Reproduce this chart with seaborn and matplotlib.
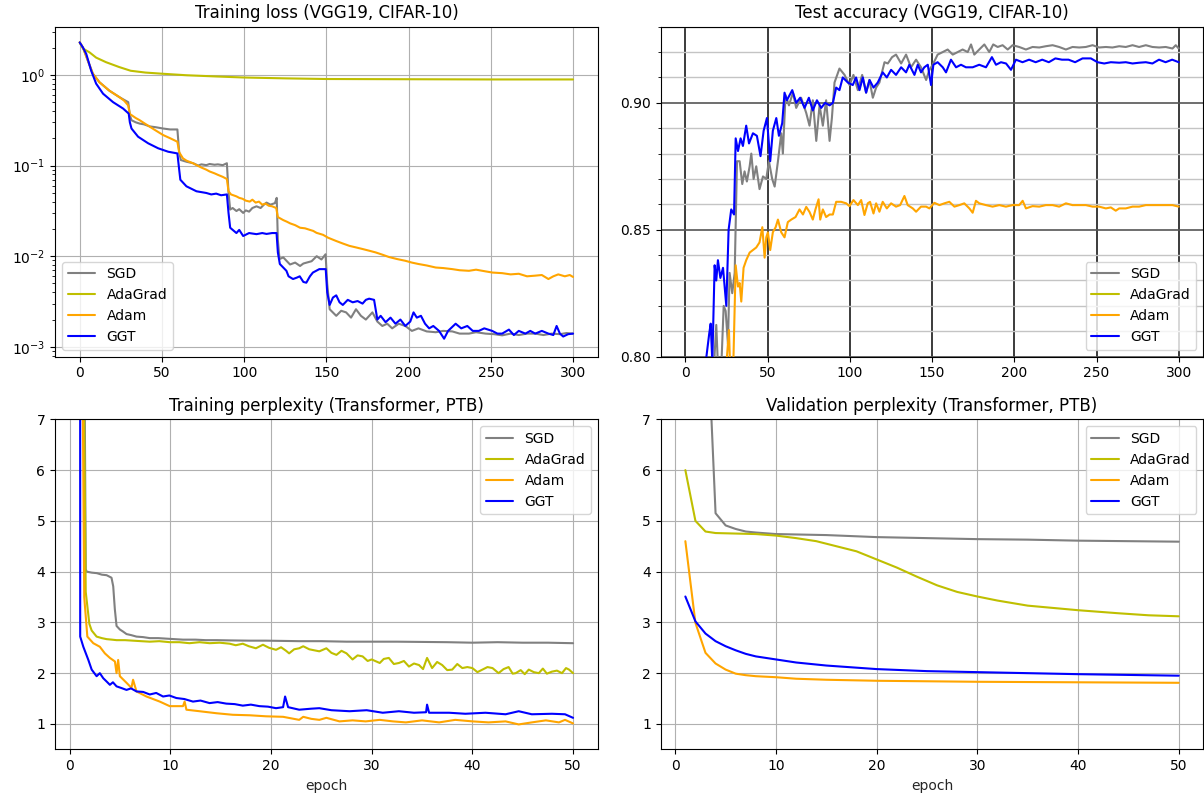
import seaborn as sns
import matplotlib.pyplot as plt
from matplotlib.ticker import MultipleLocator, FormatStrFormatter

# optimizer names and colours
names = ['SGD', 'AdaGrad', 'Adam', 'GGT']
colors = ['gray', 'y', 'orange', 'blue']

# ---- training loss (VGG19, CIFAR-10), (epoch, loss) ----
tl_sgd = [(0, 2.28), (2, 2.0), (5, 1.43), (8, 1.03), (12, 0.83), (18, 0.67), (24, 0.57), (27, 0.53),
          (29.5, 0.50), (30.5, 0.36), (31.5, 0.316), (34, 0.30), (36.5, 0.29), (39, 0.285), (42.6, 0.27),
          (46, 0.265), (50.7, 0.256), (55, 0.25), (59.4, 0.25), (60.5, 0.14), (61.5, 0.115), (65, 0.11),
          (69, 0.106), (72, 0.10), (74, 0.103), (77, 0.101), (79, 0.104), (82, 0.102), (84, 0.103),
          (87, 0.101), (89.5, 0.106), (90.5, 0.05), (91.5, 0.0327), (93, 0.034), (95.3, 0.0315),
          (97, 0.033), (99.4, 0.030), (101, 0.032), (103, 0.031), (105, 0.034), (107.5, 0.0355),
          (110, 0.034), (112, 0.037), (113.6, 0.039), (116, 0.037), (118.7, 0.0385), (119.8, 0.044),
          (120.5, 0.015), (121.5, 0.0093), (123.8, 0.0097), (126, 0.0088), (127.9, 0.0081), (131, 0.0085),
          (134, 0.0078), (136, 0.0083), (138, 0.0085), (141, 0.0088), (144.1, 0.010), (147, 0.0092),
          (149.5, 0.0105), (150.5, 0.005), (152, 0.0026), (156, 0.0022), (159, 0.0025), (162, 0.0024),
          (165, 0.0021), (168, 0.0026), (171, 0.0022), (174, 0.0020), (178, 0.0024), (181, 0.0019),
          (184, 0.0017), (187, 0.0018), (190, 0.0016), (194, 0.0018), (198, 0.0017), (202, 0.0015),
          (206, 0.0016), (211, 0.00148), (216.5, 0.00145), (221, 0.0015), (226.6, 0.00148), (231, 0.0014),
          (236.7, 0.0014), (241, 0.00145), (246.8, 0.0014), (252, 0.00138), (256.9, 0.00134), (262, 0.0014),
          (267, 0.00135), (272, 0.0014), (277, 0.0014), (282, 0.00135), (287, 0.0014), (292, 0.00138),
          (296, 0.00142), (300, 0.0014)]
tl_ada = [(0, 2.28), (2, 1.95), (6, 1.77), (10, 1.55), (16, 1.38), (24, 1.22), (31, 1.11), (40, 1.06),
          (50, 1.03), (65, 0.99), (83, 0.96), (100, 0.935), (125, 0.915), (150, 0.90), (200, 0.895),
          (250, 0.89), (300, 0.89)]
tl_adam = [(0, 2.28), (2, 2.0), (5, 1.43), (8, 1.03), (12, 0.83), (18, 0.67), (24, 0.57), (27, 0.52),
           (29.5, 0.46), (30.5, 0.37), (31.5, 0.36), (34, 0.335), (36.5, 0.316), (39, 0.295), (42.6, 0.268),
           (46, 0.245), (50.7, 0.217), (55, 0.20), (59.4, 0.183), (60.5, 0.14), (62.8, 0.12), (65, 0.113),
           (68.9, 0.106), (72, 0.099), (74, 0.095), (77, 0.09), (79, 0.086), (82, 0.082), (84, 0.079),
           (87, 0.075), (89.5, 0.071), (90.5, 0.052), (92, 0.048), (95.3, 0.0457), (97, 0.044), (99, 0.043),
           (101, 0.041), (103.4, 0.040), (105, 0.042), (107, 0.039), (109, 0.040), (111, 0.037), (113, 0.038),
           (115, 0.036), (117, 0.0355), (119.5, 0.034), (120.5, 0.027), (123.8, 0.025), (126, 0.024),
           (128, 0.023), (131, 0.022), (134, 0.0206), (137, 0.0203), (140, 0.0195), (142, 0.019),
           (144, 0.0181), (148, 0.0172), (151, 0.016), (156, 0.0147), (160, 0.0138), (164, 0.013),
           (168, 0.0125), (172, 0.012), (176, 0.0115), (180, 0.011), (184, 0.0104), (188, 0.0098),
           (193, 0.0093), (198, 0.0089), (202, 0.0085), (206, 0.0082), (211, 0.0079), (216.5, 0.0075),
           (221, 0.0074), (226.6, 0.0072), (231, 0.0070), (236.7, 0.0069), (241, 0.0071), (246.8, 0.0068),
           (251, 0.0066), (256.9, 0.0065), (262, 0.0063), (267, 0.0064), (272, 0.0060), (277, 0.0061),
           (281, 0.0062), (285, 0.0056), (288, 0.0060), (291, 0.0063), (295, 0.0060), (298, 0.0062),
           (300, 0.0059)]
tl_ggt = [(0, 2.28), (2, 2.0), (4, 1.7), (7, 1.11), (10, 0.80), (14.2, 0.62), (20.3, 0.50), (26.4, 0.425),
          (29.8, 0.374), (30.5, 0.30), (31.5, 0.256), (35.5, 0.208), (41.6, 0.176), (47.7, 0.155),
          (53.8, 0.142), (59.4, 0.136), (60.5, 0.09), (61.2, 0.0697), (64.9, 0.059), (71, 0.052),
          (77, 0.0498), (80, 0.048), (83, 0.049), (86, 0.047), (89.5, 0.048), (90.5, 0.03), (91.5, 0.0206),
          (95.3, 0.018), (97, 0.0195), (99.4, 0.0167), (103, 0.018), (107.5, 0.0175), (111, 0.018),
          (113.6, 0.0176), (117, 0.018), (119.7, 0.018), (120.5, 0.011), (121.7, 0.0082), (125.7, 0.0069),
          (127, 0.0060), (129.7, 0.0056), (132, 0.0058), (133.8, 0.006), (136, 0.0052), (137.8, 0.0051),
          (140, 0.0060), (141.8, 0.0066), (145.7, 0.0072), (149.6, 0.0072), (150.5, 0.004), (152, 0.0029),
          (154, 0.0035), (156, 0.0037), (158, 0.0031), (160, 0.0029), (163, 0.0033), (166, 0.0031),
          (169, 0.0032), (172, 0.003), (174, 0.0033), (176, 0.0034), (179, 0.0033), (181, 0.002),
          (183, 0.0022), (186, 0.00187), (189, 0.0021), (192, 0.0018), (195, 0.0020), (198, 0.0017),
          (201, 0.0019), (203, 0.0024), (205, 0.0021), (207.5, 0.0022), (210, 0.0018), (212.5, 0.0016),
          (215, 0.0017), (218.5, 0.0015), (221.6, 0.00123), (224, 0.0015), (228.6, 0.0018), (232, 0.0016),
          (235.7, 0.0017), (239, 0.0015), (242.7, 0.0015), (246, 0.0016), (250.8, 0.0015), (254, 0.0014),
          (256.9, 0.0014), (261, 0.00155), (264, 0.00135), (267, 0.0015), (271, 0.0014), (274, 0.0015),
          (277, 0.0014), (281, 0.0015), (285, 0.0014), (288, 0.00135), (290, 0.0017), (292, 0.0014),
          (294, 0.0013), (297, 0.00138), (300, 0.0014)]

# ---- test accuracy (VGG19, CIFAR-10), (epoch, accuracy) ----
ta_sgd = [(17, 0.79), (17.8, 0.801), (18.8, 0.8125), (20.2, 0.79), (21.5, 0.79), (23.3, 0.820), (24.5, 0.818),
          (25.9, 0.805), (26.9, 0.833), (28.5, 0.825), (30.0, 0.833), (31.4, 0.877), (33.0, 0.877),
          (34.6, 0.868), (36.0, 0.873), (37.4, 0.869), (39.1, 0.875), (40.1, 0.880), (41.5, 0.870),
          (43.1, 0.875), (45.1, 0.866), (47.2, 0.871), (49.2, 0.870), (50.8, 0.877), (52.8, 0.870),
          (54.3, 0.867), (56.3, 0.877), (58.3, 0.888), (59.3, 0.880), (60.9, 0.903), (63.0, 0.899),
          (65.4, 0.904), (67.4, 0.898), (70.4, 0.902), (73.5, 0.896), (75.5, 0.891), (77.5, 0.901),
          (79.6, 0.885), (81.6, 0.899), (83.6, 0.891), (85.6, 0.901), (87.7, 0.885), (89.1, 0.894),
          (90.7, 0.908), (93.7, 0.9135), (96.8, 0.911), (99.8, 0.907), (102.2, 0.911), (104.9, 0.905),
          (107.5, 0.911), (109.9, 0.904), (111.9, 0.909), (114.0, 0.902), (116.0, 0.906), (118.0, 0.908),
          (121.1, 0.916), (123.1, 0.9155), (125.7, 0.918), (128.1, 0.919), (131.2, 0.9155), (134.2, 0.919),
          (137.2, 0.914), (140.3, 0.917), (143.3, 0.914), (146.4, 0.909), (148.4, 0.913), (150.4, 0.915),
          (153.4, 0.919), (156.5, 0.920), (159.5, 0.921), (162.6, 0.919), (165.6, 0.920), (168.6, 0.921),
          (171.7, 0.920), (173.7, 0.923), (175.7, 0.919), (178.7, 0.921), (181.8, 0.923), (184.8, 0.920),
          (187.2, 0.923), (189.9, 0.922), (192.9, 0.9227), (196.0, 0.921), (199.0, 0.9227), (203.0, 0.922),
          (207.1, 0.921), (211.1, 0.922), (215.2, 0.9218), (219.2, 0.9223), (223.3, 0.9227), (227.3, 0.922),
          (231.4, 0.921), (235.4, 0.922), (239.5, 0.9218), (243.5, 0.922), (247.6, 0.9227), (251.6, 0.9218),
          (255.7, 0.922), (259.7, 0.9218), (263.8, 0.9223), (267.8, 0.922), (271.9, 0.9227), (275.9, 0.922),
          (280.0, 0.9227), (284.0, 0.922), (288.1, 0.9218), (292.1, 0.922), (296.2, 0.9214), (298.2, 0.9227),
          (300.0, 0.9214)]
ta_ada = [(0, 0.40), (50, 0.70), (100, 0.72), (150, 0.73), (200, 0.73), (250, 0.73), (300, 0.73)]
ta_adam = [(24, 0.79), (25.3, 0.800), (26.5, 0.8105), (27.5, 0.79), (28.9, 0.79), (30.6, 0.836),
           (32.0, 0.8276), (33.0, 0.829), (34.0, 0.8217), (35.4, 0.835), (37.0, 0.838), (39.1, 0.841),
           (41.1, 0.842), (43.1, 0.843), (45.1, 0.845), (46.8, 0.851), (48.2, 0.839), (49.2, 0.847),
           (50.2, 0.849), (51.6, 0.842), (53.2, 0.849), (54.9, 0.851), (56.3, 0.854), (58.3, 0.849),
           (60.3, 0.847), (62.3, 0.853), (64.4, 0.854), (67.0, 0.855), (69.4, 0.858), (71.5, 0.856),
           (73.5, 0.859), (75.5, 0.857), (77.5, 0.854), (79.1, 0.858), (81.0, 0.862), (82.0, 0.854),
           (83.6, 0.858), (85.6, 0.855), (87.7, 0.856), (89.7, 0.856), (91.7, 0.861), (94.7, 0.861),
           (97.8, 0.8604), (99.8, 0.8593), (102.2, 0.8617), (104.9, 0.8597), (106.9, 0.8617), (108.9, 0.8558),
           (110.9, 0.8604), (112.3, 0.861), (114.4, 0.8564), (116.0, 0.8604), (118.0, 0.8571), (120.0, 0.861),
           (122.5, 0.8584), (125.1, 0.8604), (128.1, 0.8591), (130.6, 0.8597), (133.2, 0.8633), (135.2, 0.8597),
           (138.3, 0.8584), (140.3, 0.8571), (143.3, 0.8591), (146.4, 0.8591), (148.4, 0.8584), (151.4, 0.8606),
           (154.5, 0.8597), (157.5, 0.8604), (160.5, 0.861), (163.6, 0.8591), (166.6, 0.8597), (169.6, 0.8604),
           (172.7, 0.8584), (174.7, 0.8567), (176.7, 0.8614), (178.7, 0.8604), (182.8, 0.8597), (186.8, 0.8591),
           (190.9, 0.8597), (194.9, 0.8591), (199.0, 0.8597), (203.0, 0.8597), (205.1, 0.8614), (207.1, 0.8584),
           (211.1, 0.8593), (215.2, 0.8591), (219.2, 0.8597), (223.3, 0.8597), (227.3, 0.8591), (231.4, 0.8604),
           (235.4, 0.8597), (239.5, 0.8597), (243.5, 0.8597), (247.6, 0.8591), (251.6, 0.8591), (255.7, 0.8584),
           (258.7, 0.8588), (261.7, 0.8575), (263.8, 0.8584), (267.8, 0.8584), (271.9, 0.8591), (275.9, 0.8591),
           (280.0, 0.8597), (284.0, 0.8597), (288.1, 0.8597), (292.1, 0.8597), (296.2, 0.8597), (300.0, 0.8591)]
ta_ggt = [(12, 0.79), (12.8, 0.800), (14.5, 0.809), (15.4, 0.813), (16.4, 0.798), (17.8, 0.836), (18.8, 0.830),
          (19.8, 0.838), (21.3, 0.831), (22.9, 0.835), (24.9, 0.820), (26.3, 0.850), (27.9, 0.858),
          (29.6, 0.856), (30.6, 0.886), (32.0, 0.881), (33.6, 0.886), (35.0, 0.883), (37.0, 0.891),
          (38.7, 0.884), (41.1, 0.888), (43.5, 0.887), (45.7, 0.879), (47.6, 0.889), (49.6, 0.894),
          (51.6, 0.877), (53.2, 0.889), (55.3, 0.894), (56.9, 0.887), (58.9, 0.892), (60.3, 0.904),
          (61.7, 0.901), (65.0, 0.905), (67.4, 0.900), (69.8, 0.902), (72.5, 0.898), (75.1, 0.902),
          (77.5, 0.897), (80.0, 0.901), (82.6, 0.898), (85.0, 0.900), (87.7, 0.899), (89.7, 0.900),
          (91.7, 0.906), (93.7, 0.905), (95.7, 0.910), (98.8, 0.908), (101.8, 0.907), (103.8, 0.910),
          (105.9, 0.905), (107.9, 0.910), (109.9, 0.904), (112.0, 0.909), (114.4, 0.906), (117.0, 0.908),
          (120.0, 0.912), (122.5, 0.910), (125.1, 0.913), (128.1, 0.911), (131.2, 0.914), (134.2, 0.912),
          (136.2, 0.915), (139.3, 0.911), (141.3, 0.915), (143.3, 0.912), (145.3, 0.914), (147.4, 0.915),
          (149.4, 0.907), (150.8, 0.915), (153.4, 0.916), (156.5, 0.914), (158.5, 0.912), (161.5, 0.917),
          (164.6, 0.914), (167.6, 0.915), (170.6, 0.914), (174.7, 0.914), (178.7, 0.915), (182.8, 0.914),
          (186.4, 0.918), (188.9, 0.915), (191.9, 0.916), (195.0, 0.9155), (198.0, 0.913), (201.0, 0.917),
          (205.0, 0.916), (209.0, 0.917), (213.0, 0.916), (217.0, 0.917), (221.0, 0.916), (225.0, 0.9175),
          (229.0, 0.917), (233.0, 0.917), (237.0, 0.916), (241.5, 0.9175), (246.6, 0.9175), (250.6, 0.916),
          (254.7, 0.9155), (258.7, 0.916), (263.8, 0.9158), (267.8, 0.916), (271.9, 0.9155), (275.9, 0.9158),
          (280.0, 0.916), (284.0, 0.9155), (288.0, 0.917), (292.0, 0.916), (296.0, 0.917), (300.0, 0.916)]

# ---- training perplexity (Transformer, PTB), (epoch, perplexity) ----
tp_sgd = [(1.0, 60), (1.45, 9.0), (1.6, 4.05), (1.69, 4.0), (2.2, 3.98), (2.7, 3.97), (3.2, 3.94), (3.67, 3.93),
          (4.16, 3.88), (4.33, 3.71), (4.49, 3.26), (4.66, 2.93), (4.99, 2.86), (5.3, 2.82), (5.65, 2.77),
          (6.1, 2.75), (6.64, 2.72), (7.3, 2.71), (7.96, 2.69), (8.8, 2.69), (9.6, 2.68), (10.4, 2.67),
          (11.26, 2.66), (12.5, 2.66), (13.5, 2.65), (14.6, 2.65), (16, 2.645), (17.9, 2.64), (19.5, 2.64),
          (21.2, 2.635), (22.8, 2.63), (25, 2.63), (27.5, 2.62), (30, 2.62), (32.5, 2.62), (35, 2.615),
          (37.5, 2.61), (40, 2.60), (42.5, 2.61), (45, 2.60), (47.5, 2.60), (50, 2.59)]
tp_ada = [(1.0, 60), (1.4, 8.0), (1.6, 3.6), (1.96, 2.97), (2.19, 2.84), (2.68, 2.72), (3.2, 2.69), (3.67, 2.67),
          (4.2, 2.66), (4.66, 2.65), (5.5, 2.65), (6.3, 2.64), (7.1, 2.63), (7.96, 2.62), (8.9, 2.63),
          (9.94, 2.61), (10.9, 2.61), (11.9, 2.59), (12.9, 2.61), (13.9, 2.59), (14.9, 2.6), (15.9, 2.58),
          (16.5, 2.55), (17.2, 2.58), (17.8, 2.53), (18.5, 2.49), (19.2, 2.56), (19.8, 2.50), (20.5, 2.46),
          (21.0, 2.51), (21.5, 2.44), (21.8, 2.39), (22.3, 2.47), (22.8, 2.49), (23.2, 2.53), (23.8, 2.47),
          (24.8, 2.43), (25.5, 2.49), (26.0, 2.40), (26.5, 2.36), (27.0, 2.44), (27.5, 2.39), (28.1, 2.27),
          (28.6, 2.35), (29.1, 2.33), (29.6, 2.24), (30.0, 2.27), (30.8, 2.2), (31.2, 2.28), (31.7, 2.30),
          (32.2, 2.18), (32.7, 2.2), (33.2, 2.24), (33.7, 2.13), (34.2, 2.19), (34.7, 2.16), (35.1, 2.08),
          (35.5, 2.30), (36.0, 2.10), (36.5, 2.22), (37.0, 2.16), (37.5, 2.06), (38.0, 2.07), (38.5, 2.18),
          (39.0, 2.10), (39.5, 2.12), (40.0, 2.10), (40.5, 2.02), (41.0, 2.07), (41.5, 2.12), (42.0, 2.10),
          (42.6, 2.0), (43.1, 2.08), (43.6, 2.12), (44.0, 1.99), (44.3, 2.0), (44.8, 2.06), (45.2, 1.98),
          (45.6, 2.07), (46.1, 2.02), (46.6, 2.0), (47.0, 2.09), (47.4, 1.99), (47.9, 2.03), (48.4, 2.05),
          (48.9, 2.0), (49.3, 2.10), (49.6, 2.07), (50.0, 2.0)]
tp_adam = [(1.0, 60), (1.3, 7.5), (1.45, 3.5), (1.76, 2.72), (2.35, 2.59), (3.0, 2.52), (3.5, 2.39), (4.0, 2.30),
           (4.5, 2.23), (4.66, 2.0), (4.82, 2.26), (4.99, 1.94), (5.65, 1.81), (6.14, 1.71), (6.3, 1.87),
           (6.64, 1.64), (7.63, 1.54), (8.95, 1.44), (9.94, 1.35), (11.26, 1.35), (11.42, 1.44), (11.6, 1.28),
           (12.9, 1.25), (14.6, 1.21), (16.2, 1.18), (17.9, 1.17), (19.5, 1.15), (21.2, 1.14), (22.8, 1.08),
           (23.2, 1.14), (24, 1.10), (24.8, 1.08), (25.5, 1.12), (26.8, 1.05), (28.1, 1.07), (29.4, 1.05),
           (30.8, 1.08), (32.1, 1.05), (33.4, 1.03), (35, 1.07), (36.7, 1.03), (38.3, 1.08), (40, 1.05),
           (41.6, 1.03), (43.3, 1.05), (44.6, 0.99), (45.9, 1.03), (47.3, 1.07), (48.6, 1.03), (49.2, 1.08),
           (50, 1.01)]
tp_ggt = [(1.0, 60), (1.05, 2.72), (1.36, 2.52), (1.86, 2.26), (2.19, 2.07), (2.68, 1.94), (3.0, 2.0), (3.34, 1.90),
          (3.7, 1.83), (4.0, 1.77), (4.3, 1.82), (4.66, 1.74), (5.1, 1.71), (5.65, 1.67), (6.1, 1.70),
          (6.64, 1.64), (7.3, 1.63), (7.96, 1.58), (8.6, 1.61), (9.28, 1.54), (9.9, 1.56), (10.6, 1.51),
          (11.4, 1.49), (12.25, 1.44), (13.0, 1.46), (13.9, 1.41), (14.7, 1.43), (15.55, 1.40), (16.4, 1.39),
          (17.2, 1.36), (18.0, 1.38), (18.85, 1.35), (19.7, 1.34), (20.5, 1.31), (21.2, 1.33), (21.4, 1.54),
          (21.7, 1.33), (22.8, 1.28), (24, 1.30), (24.8, 1.31), (26, 1.27), (27.8, 1.25), (29.5, 1.27),
          (31.1, 1.22), (32.7, 1.25), (34.2, 1.22), (35.4, 1.23), (35.5, 1.38), (35.7, 1.22), (37.7, 1.22),
          (39.3, 1.20), (41.3, 1.22), (43.3, 1.19), (44.6, 1.25), (45.9, 1.19), (47.9, 1.20), (49.2, 1.19),
          (50, 1.12)]

# ---- validation perplexity (Transformer, PTB), (epoch, perplexity) ----
vp_sgd = [(1, 30), (2, 15), (3, 9.7), (4, 5.15), (5, 4.91), (6, 4.84), (7, 4.79), (8, 4.77), (10, 4.74),
          (15, 4.72), (20, 4.68), (25, 4.66), (30, 4.64), (35, 4.63), (40, 4.61), (45, 4.60), (50, 4.59)]
vp_ada = [(1, 6.0), (2, 5.0), (3, 4.79), (4, 4.76), (6, 4.75), (8, 4.74), (10, 4.71), (12, 4.66), (14, 4.6),
          (16, 4.5), (18, 4.4), (20, 4.24), (22, 4.08), (24, 3.9), (26, 3.73), (28, 3.6), (30, 3.51),
          (32, 3.43), (35, 3.33), (40, 3.24), (44, 3.18), (47, 3.14), (50, 3.12)]
vp_adam = [(1, 4.6), (2, 2.99), (3, 2.4), (4, 2.19), (5, 2.07), (6, 1.99), (7, 1.96), (8, 1.94), (10, 1.92),
           (12, 1.89), (15, 1.87), (20, 1.85), (30, 1.83), (40, 1.82), (50, 1.81)]
vp_ggt = [(1, 3.51), (2, 3.02), (3, 2.78), (4, 2.63), (5, 2.53), (6, 2.45), (7, 2.38), (8, 2.33), (10, 2.27),
          (12, 2.21), (15, 2.15), (20, 2.08), (25, 2.04), (30, 2.02), (40, 1.98), (50, 1.95)]

sns.set_style('ticks')
plt.rcParams['font.family'] = ['DejaVu Sans']
plt.rcParams['font.size'] = 10
plt.rcParams['axes.titlesize'] = 12
plt.rcParams['text.color'] = 'black'
plt.rcParams['xtick.color'] = 'black'
plt.rcParams['ytick.color'] = 'black'
plt.rcParams['axes.edgecolor'] = 'black'


def draw(ax, series):
    for pts, name, c in zip(series, names, colors):
        x, y = zip(*pts)
        sns.lineplot(x=list(x), y=list(y), ax=ax, color=c, label=name,
                     linewidth=1.5, sort=False, estimator=None)


fig, axes = plt.subplots(2, 2, figsize=(12.04, 7.94), dpi=100)
plt.subplots_adjust(left=0.0457, right=0.9995, bottom=0.0563, top=0.9664, wspace=0.116, hspace=0.19)

# Training loss
ax = axes[0, 0]
draw(ax, [tl_sgd, tl_ada, tl_adam, tl_ggt])
ax.set_yscale('log')
ax.set_ylim(7.8e-4, 3.4)
ax.set_xlim(-15, 315)
ax.set_xticks(range(0, 301, 50))
ax.grid(True, color='#b0b0b0', linewidth=0.8)
ax.set_title('Training loss (VGG19, CIFAR-10)')
ax.legend(loc='lower left')

# Test accuracy
ax = axes[0, 1]
draw(ax, [ta_sgd, ta_ada, ta_adam, ta_ggt])
ax.set_ylim(0.80, 0.93)
ax.set_xlim(-15, 315)
ax.set_xticks(range(0, 301, 50))
ax.yaxis.set_major_locator(MultipleLocator(0.05))
ax.yaxis.set_minor_locator(MultipleLocator(0.01))
ax.yaxis.set_major_formatter(FormatStrFormatter('%.2f'))
ax.grid(True, which='major', axis='x', color='#1a1a1a', linewidth=1.2)
ax.grid(True, which='major', axis='y', color='#555555', linewidth=1.2)
ax.grid(True, which='minor', axis='y', color='#c4c4c4', linewidth=1.0)
ax.set_title('Test accuracy (VGG19, CIFAR-10)')
ax.legend(loc='lower right')

# Training perplexity
ax = axes[1, 0]
draw(ax, [tp_sgd, tp_ada, tp_adam, tp_ggt])
ax.set_ylim(0.5, 7)
ax.set_xlim(-1.45, 52.45)
ax.grid(True, color='#b0b0b0', linewidth=0.8)
ax.set_title('Training perplexity (Transformer, PTB)')
ax.set_xlabel('epoch')
ax.legend(loc='upper right')

# Validation perplexity
ax = axes[1, 1]
draw(ax, [vp_sgd, vp_ada, vp_adam, vp_ggt])
ax.set_ylim(0.5, 7)
ax.set_xlim(-1.45, 52.45)
ax.grid(True, color='#b0b0b0', linewidth=0.8)
ax.set_title('Validation perplexity (Transformer, PTB)')
ax.set_xlabel('epoch')
ax.legend(loc='upper right')

for ax in axes.flat:
    ax.set_ylabel('')
    for s in ax.spines.values():
        s.set_visible(True)

fig.savefig('out.png', dpi=100)
plt.close(fig)
